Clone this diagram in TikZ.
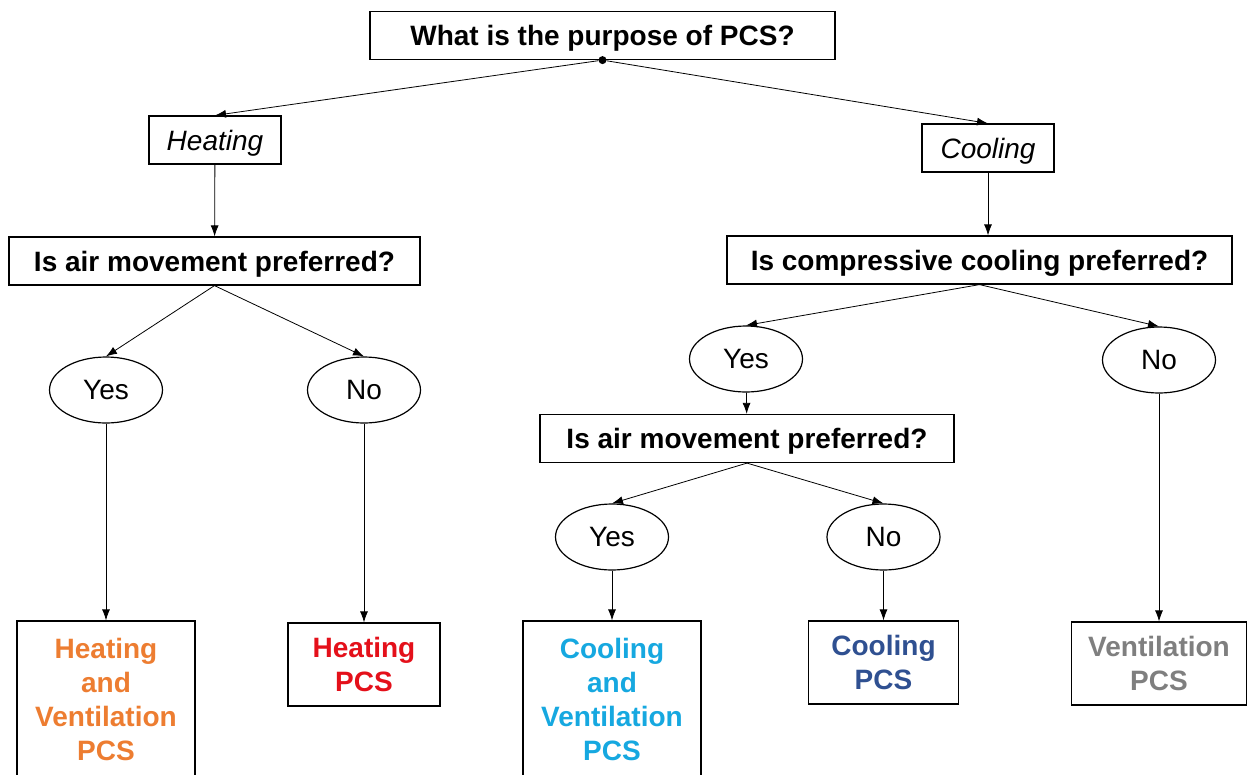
\documentclass[tikz,border=0pt]{standalone}
\usepackage{fontspec}
\setmainfont{Liberation Sans}
\usepackage{xcolor}
\usepackage{tikz}
\usetikzlibrary{arrows.meta}
\usetikzlibrary{shapes.geometric}

\definecolor{hvorange}{RGB}{237,125,49}
\definecolor{hpred}{RGB}{228,16,26}
\definecolor{cvblue}{RGB}{22,168,224}
\definecolor{cpblue}{RGB}{47,80,145}
\definecolor{vpgray}{RGB}{127,127,127}

\begin{document}
\begin{tikzpicture}
[every node/.style={inner sep=0pt, font=\fontsize{28}{34}\selectfont},
 qbox/.style={rectangle, minimum height=48pt, text depth=0pt, fill=white, line width=1.2pt, draw=black, font=\fontsize{28}{34}\selectfont\bfseries},
 pbox/.style={rectangle, minimum height=48pt, text depth=0pt, fill=white, line width=1.2pt, draw=black, font=\fontsize{28}{34}\selectfont\itshape},
 answer/.style={ellipse, minimum width=113pt, minimum height=66pt, text depth=0pt, fill=white, line width=1.2pt, draw=black},
 leaf/.style={rectangle, align=center, fill=white, line width=1.2pt, draw=black, font=\fontsize{28}{34}\selectfont\bfseries},
 link/.style={line width=0.8pt, -{Latex[length=11pt,width=8pt]}}]
\useasboundingbox (0pt, 0pt) rectangle (1247pt, -774pt);
\node (purpose) [qbox, minimum width=465pt] at (602.5pt, -35.5pt) {What is the purpose of PCS?};
\node (dot) [circle, minimum size=8pt, fill=black] at (purpose.south) {};
\node (heat) [pbox, minimum width=132pt] at (215.0pt, -140.0pt) {Heating};
\node (cool) [pbox, minimum width=132pt] at (988.0pt, -148.0pt) {Cooling};
\node (airL) [qbox, minimum width=411pt] at (214.5pt, -261.0pt) {Is air movement preferred?};
\node (comp) [qbox, minimum width=505pt] at (979.5pt, -260.0pt) {Is compressive cooling preferred?};
\node (yesL) [answer] at (106.0pt, -390.0pt) {Yes};
\node (noL) [answer] at (364.0pt, -390.0pt) {No};
\node (yesC) [answer] at (746.0pt, -359.0pt) {Yes};
\node (noC) [answer] at (1159.0pt, -360.0pt) {No};
\node (airR) [qbox, minimum width=414pt] at (747.0pt, -438.5pt) {Is air movement preferred?};
\node (yesR) [answer] at (612.0pt, -537.0pt) {Yes};
\node (noR) [answer] at (883.5pt, -537.0pt) {No};
\node (hvpcs) [leaf, minimum width=178pt, minimum height=156pt] at (106.0pt, -699.0pt) {\textcolor{hvorange}{Heating}\\\textcolor{hvorange}{and}\\\textcolor{hvorange}{Ventilation}\\\textcolor{hvorange}{PCS}};
\node (hpcs) [leaf, minimum width=152pt, minimum height=83pt] at (364.0pt, -664.5pt) {\textcolor{hpred}{Heating}\\\textcolor{hpred}{PCS}};
\node (cvpcs) [leaf, minimum width=178pt, minimum height=156pt] at (612.0pt, -699.0pt) {\textcolor{cvblue}{Cooling}\\\textcolor{cvblue}{and}\\\textcolor{cvblue}{Ventilation}\\\textcolor{cvblue}{PCS}};
\node (cpcs) [leaf, minimum width=150pt, minimum height=83pt] at (883.5pt, -662.5pt) {\textcolor{cpblue}{Cooling}\\\textcolor{cpblue}{PCS}};
\node (vpcs) [leaf, minimum width=175pt, minimum height=83pt] at (1159.0pt, -663.5pt) {\textcolor{vpgray}{Ventilation}\\\textcolor{vpgray}{PCS}};
\draw [link] (dot) to (heat.north);
\draw [link] (dot) to (cool.north);
\draw [link] (heat) to (airL);
\draw [link] (cool.south) to (comp.north -| cool.south);
\draw [link] (airL.south) to (yesL.north);
\draw [link] (airL.south) to (noL.north);
\draw [link] (comp.south) to (yesC.north);
\draw [link] (comp.south) to (noC.north);
\draw [link] (yesC) to (airR);
\draw [link] (airR.south) to (yesR.north);
\draw [link] (airR.south) to (noR.north);
\draw [link] (yesL) to (hvpcs);
\draw [link] (noL) to (hpcs);
\draw [link] (yesR) to (cvpcs);
\draw [link] (noR) to (cpcs);
\draw [link] (noC) to (vpcs);
\end{tikzpicture}
\end{document}
